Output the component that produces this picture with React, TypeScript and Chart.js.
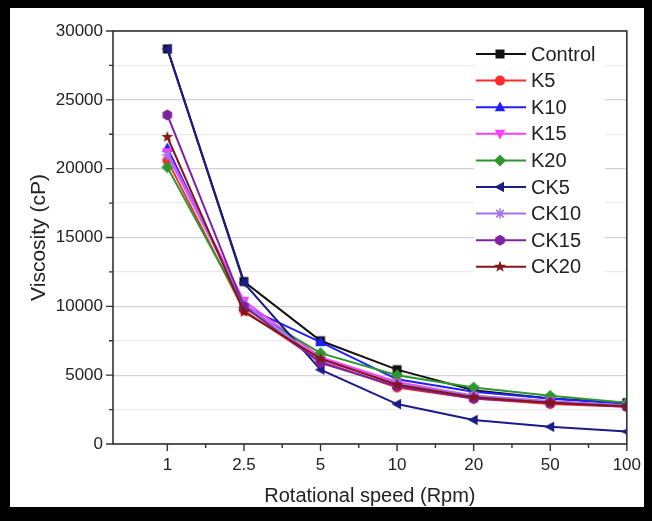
import React, { useEffect, useRef } from 'react';
import { Chart, registerables } from 'chart.js';

Chart.register(...registerables);

// ---------- data ----------
const speedLabels = ['1', '2.5', '5', '10', '20', '50', '100'];
const seriesNames = ['Control', 'K5', 'K10', 'K15', 'K20', 'CK5', 'CK10', 'CK15', 'CK20'];

const controlValues = [28700, 11800, 7500, 5400, 3900, 3300, 3000];
const k5Values = [20600, 9700, 6000, 4100, 3300, 2900, 2700];
const k10Values = [21500, 10000, 7400, 4700, 3800, 3300, 2900];
const k15Values = [21200, 10400, 6300, 4500, 3500, 3100, 2800];
const k20Values = [20100, 9900, 6600, 5000, 4100, 3500, 3000];
const ck5Values = [28700, 11700, 5400, 2900, 1750, 1250, 900];
const ck10Values = [21000, 10200, 6100, 4400, 3500, 3100, 2800];
const ck15Values = [23900, 10000, 5900, 4200, 3300, 3000, 2700];
const ck20Values = [22300, 9600, 6200, 4300, 3400, 3000, 2750];

const seriesValues = [
  controlValues, k5Values, k10Values, k15Values, k20Values,
  ck5Values, ck10Values, ck15Values, ck20Values,
];

const seriesColors = [
  '#111111', '#ff2a2a', '#1f1fff', '#ff3dff', '#2f962f',
  '#1c1c88', '#a374f2', '#7e22a0', '#841616',
];
const markerShapes = [
  'square', 'circle', 'triangleUp', 'triangleDown', 'diamond',
  'triangleLeft', 'asterisk', 'hexagon', 'star',
];

const yMin = 0;
const yMax = 30000;
const yStep = 2500;
const yLabelStep = 5000;

const FONT = "'Liberation Sans', Arial, sans-serif";

// ---------- marker drawing ----------
function drawShape(ctx: CanvasRenderingContext2D, shape: string, color: string, r: number) {
  ctx.fillStyle = color;
  ctx.strokeStyle = color;
  ctx.lineWidth = 1.5;
  ctx.beginPath();
  switch (shape) {
    case 'square':
      ctx.rect(-r * 0.9, -r * 0.9, r * 1.8, r * 1.8);
      ctx.fill();
      break;
    case 'circle':
      ctx.arc(0, 0, r, 0, Math.PI * 2);
      ctx.fill();
      break;
    case 'triangleUp':
      ctx.moveTo(0, -r * 1.15);
      ctx.lineTo(r * 1.05, r * 0.8);
      ctx.lineTo(-r * 1.05, r * 0.8);
      ctx.closePath();
      ctx.fill();
      break;
    case 'triangleDown':
      ctx.moveTo(0, r * 1.15);
      ctx.lineTo(r * 1.05, -r * 0.8);
      ctx.lineTo(-r * 1.05, -r * 0.8);
      ctx.closePath();
      ctx.fill();
      break;
    case 'triangleLeft':
      ctx.moveTo(-r * 1.15, 0);
      ctx.lineTo(r * 0.8, -r * 1.05);
      ctx.lineTo(r * 0.8, r * 1.05);
      ctx.closePath();
      ctx.fill();
      break;
    case 'diamond':
      ctx.moveTo(0, -r * 1.2);
      ctx.lineTo(r * 1.2, 0);
      ctx.lineTo(0, r * 1.2);
      ctx.lineTo(-r * 1.2, 0);
      ctx.closePath();
      ctx.fill();
      break;
    case 'asterisk': {
      const a = r * 1.05;
      const d = r * 0.75;
      ctx.moveTo(0, -a); ctx.lineTo(0, a);
      ctx.moveTo(-a, 0); ctx.lineTo(a, 0);
      ctx.moveTo(-d, -d); ctx.lineTo(d, d);
      ctx.moveTo(-d, d); ctx.lineTo(d, -d);
      ctx.stroke();
      break;
    }
    case 'hexagon':
      for (let k = 0; k < 6; k++) {
        const ang = Math.PI / 6 + (k * Math.PI) / 3;
        const px = Math.cos(ang) * r * 1.1;
        const py = Math.sin(ang) * r * 1.1;
        if (k === 0) ctx.moveTo(px, py); else ctx.lineTo(px, py);
      }
      ctx.closePath();
      ctx.fill();
      break;
    case 'star': {
      const outer = r * 1.25;
      const inner = r * 0.5;
      for (let k = 0; k < 10; k++) {
        const ang = -Math.PI / 2 + (k * Math.PI) / 5;
        const rr = k % 2 === 0 ? outer : inner;
        const px = Math.cos(ang) * rr;
        const py = Math.sin(ang) * rr;
        if (k === 0) ctx.moveTo(px, py); else ctx.lineTo(px, py);
      }
      ctx.closePath();
      ctx.fill();
      break;
    }
    default:
      ctx.arc(0, 0, r, 0, Math.PI * 2);
      ctx.fill();
  }
}

function makeMarker(shape: string, color: string, r: number): HTMLCanvasElement {
  const size = 2 * Math.ceil(r * 1.3) + 2;
  const c = document.createElement('canvas');
  c.width = size;
  c.height = size;
  const ctx = c.getContext('2d')!;
  ctx.translate(size / 2, size / 2);
  drawShape(ctx, shape, color, r);
  return c;
}

// ---------- plugins ----------
const framePlugin = {
  id: 'outerFrame',
  beforeDraw(chart: any) {
    const { ctx, width, height } = chart;
    ctx.save();
    ctx.fillStyle = '#000';
    ctx.fillRect(0, 0, width, height);
    ctx.fillStyle = '#fff';
    ctx.fillRect(10, 8, width - 18, height - 22);
    ctx.restore();
  },
};

const decorPlugin = {
  id: 'decor',
  afterDraw(chart: any) {
    const { ctx, chartArea } = chart;
    const xs = chart.scales.x;
    const ys = chart.scales.y;
    ctx.save();
    // axis frame
    ctx.strokeStyle = '#333';
    ctx.lineWidth = 1.6;
    ctx.strokeRect(chartArea.left, chartArea.top, chartArea.right - chartArea.left, chartArea.bottom - chartArea.top);
    // y ticks
    ctx.lineWidth = 1.4;
    ctx.beginPath();
    for (let v = yMin; v <= yMax; v += yStep) {
      const py = ys.getPixelForValue(v);
      const len = v % yLabelStep === 0 ? 7 : 4;
      ctx.moveTo(chartArea.left - len, py);
      ctx.lineTo(chartArea.left, py);
    }
    // x ticks
    for (let i = 0; i < speedLabels.length; i++) {
      const px = xs.getPixelForValue(i);
      ctx.moveTo(px, chartArea.bottom);
      ctx.lineTo(px, chartArea.bottom + 7);
      if (i < speedLabels.length - 1) {
        const pm = xs.getPixelForValue(i + 0.5);
        ctx.moveTo(pm, chartArea.bottom);
        ctx.lineTo(pm, chartArea.bottom + 4);
      }
    }
    ctx.stroke();

    // legend
    const boxLeft = 474;
    const boxTop = 40;
    const boxRight = 605;
    const rowH = 26.6;
    const firstY = 54;
    ctx.fillStyle = '#fff';
    ctx.fillRect(boxLeft, boxTop, boxRight - boxLeft, firstY + rowH * (seriesNames.length - 1) + 14 - boxTop);
    ctx.font = `20px ${FONT}`;
    ctx.textBaseline = 'middle';
    ctx.textAlign = 'left';
    seriesNames.forEach((name, i) => {
      const y = firstY + i * rowH;
      ctx.strokeStyle = seriesColors[i];
      ctx.lineWidth = 2;
      ctx.beginPath();
      ctx.moveTo(476, y);
      ctx.lineTo(526, y);
      ctx.stroke();
      ctx.save();
      ctx.translate(500, y);
      drawShape(ctx, markerShapes[i], seriesColors[i], 5);
      ctx.restore();
      ctx.fillStyle = '#222';
      ctx.fillText(name, 531, y + 1);
    });
    ctx.restore();
  },
};

function isInt(v: number) {
  return Math.abs(v - Math.round(v)) < 1e-6;
}

export default function App() {
  const canvasRef = useRef<HTMLCanvasElement | null>(null);

  useEffect(() => {
    document.body.style.margin = '0';
    const canvas = canvasRef.current!;
    Chart.defaults.font.family = FONT;

    const datasets = seriesValues.map((vals, i) => ({
      label: seriesNames[i],
      data: vals.map((v, j) => ({ x: j, y: v })),
      borderColor: seriesColors[i],
      backgroundColor: seriesColors[i],
      borderWidth: 2,
      pointStyle: makeMarker(markerShapes[i], seriesColors[i], 5) as any,
      pointRadius: 5,
      pointHoverRadius: 5,
      tension: 0,
      order: seriesNames.length - i,
    }));

    const chart = new Chart(canvas, {
      type: 'line',
      data: { datasets },
      options: {
        animation: false,
        responsive: false,
        devicePixelRatio: 1,
        layout: { padding: { top: 31, right: 21, left: 0, bottom: 0 } },
        plugins: {
          legend: { display: false },
          tooltip: { enabled: false },
        },
        scales: {
          x: {
            type: 'linear',
            min: -0.71,
            max: speedLabels.length - 1,
            afterFit(scale: any) { scale.height = 77; },
            grid: { display: false, drawTicks: false },
            border: { display: false },
            ticks: {
              stepSize: 0.5,
              autoSkip: false,
              maxRotation: 0,
              padding: 11,
              color: '#222',
              font: { size: 17, family: FONT },
              callback: (v: any) => {
                const n = Number(v);
                if (n >= 0 && isInt(n)) return speedLabels[Math.round(n)] ?? '';
                return '';
              },
            },
            title: {
              display: true,
              text: 'Rotational speed (Rpm)',
              color: '#222',
              font: { size: 20, family: FONT },
              padding: { top: 0, bottom: 13 },
            },
          },
          y: {
            type: 'linear',
            min: yMin,
            max: yMax,
            afterFit(scale: any) { scale.width = 113; },
            grid: {
              drawTicks: false,
              lineWidth: 1.2,
              color: (c: any) => (c.tick && c.tick.value % yLabelStep === 0 ? '#d2d2d2' : '#ebebeb'),
            },
            border: { display: false },
            ticks: {
              stepSize: yStep,
              autoSkip: false,
              padding: 10,
              color: '#222',
              font: { size: 17, family: FONT },
              callback: (v: any) => (Number(v) % yLabelStep === 0 ? String(v) : ''),
            },
            title: {
              display: true,
              text: 'Viscosity (cP)',
              color: '#222',
              font: { size: 21, family: FONT },
              padding: { top: 27, bottom: 0 },
            },
          },
        },
      } as any,
      plugins: [framePlugin, decorPlugin],
    });

    return () => chart.destroy();
  }, []);

  return (
    <div style={{ position: 'absolute', left: 0, top: 0, width: 652, height: 521 }}>
      <canvas ref={canvasRef} width={652} height={521} style={{ display: 'block', width: 652, height: 521 }} />
    </div>
  );
}
